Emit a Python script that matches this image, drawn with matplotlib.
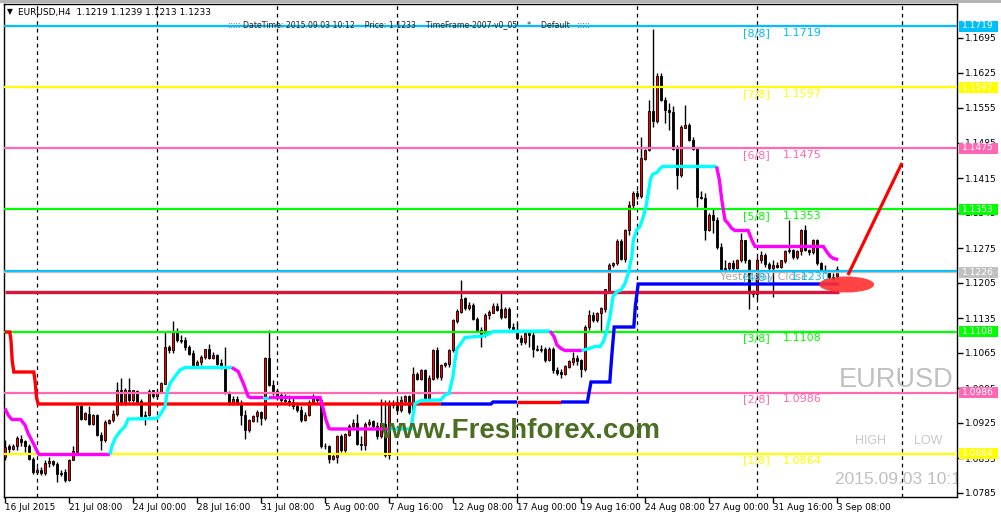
import matplotlib
matplotlib.use('Agg')
import matplotlib.pyplot as plt
from matplotlib.patches import Rectangle, Ellipse
from matplotlib.transforms import blended_transform_factory
import numpy as np

# ---------------- data ----------------
opens = [1.0858,1.0878,1.0874,1.0878,1.0894,1.0888,1.0878,1.0854,1.0828,1.0832,
1.0826,1.0846,1.0850,1.0843,1.0824,1.0826,1.0811,1.0852,1.0868,1.0959,
1.0934,1.0944,1.0924,1.0941,1.0901,1.0891,1.0926,1.0931,1.0943,1.0991,
1.0964,1.0991,1.0971,1.0990,1.0968,1.0938,1.0941,1.0990,1.0979,1.0986,
1.1004,1.1078,1.1071,1.1108,1.1091,1.1090,1.1078,1.1064,1.1041,1.1047,
1.1058,1.1072,1.1056,1.1060,1.1044,1.1038,1.0988,1.0964,1.0974,1.0966,
1.0941,1.0911,1.0930,1.0938,1.0946,1.0936,1.1054,1.1001,1.0990,1.0981,
1.0972,1.0970,1.0966,1.0958,1.0952,1.0931,1.0941,1.0968,1.0974,1.0971,
1.0879,1.0878,1.0854,1.0858,1.0898,1.0872,1.0902,1.0918,1.0924,1.0884,
1.0881,1.0924,1.0928,1.0919,1.0898,1.0924,1.0861,1.0961,1.0966,1.0951,
1.0970,1.0978,1.0948,1.1023,1.1014,1.1030,1.0974,1.1014,1.1071,1.1018,
1.1041,1.1044,1.1071,1.1130,1.1148,1.1174,1.1156,1.1161,1.1134,1.1111,
1.1101,1.1141,1.1146,1.1159,1.1152,1.1138,1.1152,1.1118,1.1111,1.1096,
1.1088,1.1104,1.1101,1.1074,1.1072,1.1074,1.1052,1.1074,1.1031,1.1026,
1.1022,1.1038,1.1048,1.1056,1.1050,1.1034,1.1118,1.1141,1.1131,1.1144,
1.1154,1.1192,1.1241,1.1244,1.1288,1.1254,1.1311,1.1361,1.1384,1.1379,
1.1454,1.1471,1.1548,1.1528,1.1619,1.1571,1.1550,1.1546,1.1474,1.1421,
1.1516,1.1521,1.1491,1.1474,1.1378,1.1375,1.1311,1.1341,1.1331,1.1278,
1.1234,1.1236,1.1244,1.1236,1.1251,1.1290,1.1251,1.1184,1.1183,1.1251,
1.1261,1.1243,1.1236,1.1241,1.1238,1.1250,1.1268,1.1271,1.1258,1.1268,
1.1311,1.1271,1.1266,1.1291,1.1244,1.1232,1.1228,1.1218,1.1219]
highs = [1.0891,1.0884,1.0884,1.0898,1.0901,1.0891,1.0884,1.0858,1.0838,1.0838,
1.0851,1.0858,1.0852,1.0848,1.0831,1.0834,1.0854,1.0878,1.0961,1.0961,
1.0948,1.0958,1.0944,1.0944,1.0908,1.0931,1.0934,1.0951,1.1008,1.1016,
1.0996,1.1016,1.0992,1.0992,1.0974,1.0950,1.0994,1.0992,1.0991,1.1008,
1.1108,1.1080,1.1130,1.1116,1.1101,1.1098,1.1081,1.1071,1.1051,1.1061,
1.1074,1.1083,1.1068,1.1064,1.1054,1.1078,1.0990,1.0978,1.0978,1.0971,
1.0951,1.0934,1.0941,1.0951,1.0950,1.1058,1.1112,1.1011,1.0994,1.0986,
1.0984,1.0981,1.0979,1.0968,1.0958,1.0948,1.0971,1.0984,1.0979,1.0974,
1.0886,1.0882,1.0866,1.0901,1.0904,1.0906,1.0924,1.0934,1.0944,1.0898,
1.0928,1.0934,1.0931,1.0928,1.0974,1.0971,1.0971,1.0972,1.0974,1.0978,
1.0981,1.0980,1.1038,1.1028,1.1034,1.1034,1.1020,1.1074,1.1078,1.1044,
1.1048,1.1074,1.1134,1.1154,1.1212,1.1178,1.1168,1.1164,1.1138,1.1118,
1.1144,1.1151,1.1164,1.1164,1.1184,1.1158,1.1158,1.1124,1.1124,1.1101,
1.1108,1.1108,1.1108,1.1081,1.1081,1.1078,1.1078,1.1078,1.1038,1.1034,
1.1041,1.1052,1.1068,1.1061,1.1054,1.1121,1.1151,1.1148,1.1148,1.1158,
1.1194,1.1244,1.1248,1.1294,1.1294,1.1314,1.1368,1.1388,1.1391,1.1498,
1.1474,1.1571,1.1712,1.1624,1.1624,1.1578,1.1564,1.1559,1.1481,1.1521,
1.1561,1.1524,1.1498,1.1478,1.1388,1.1384,1.1344,1.1354,1.1338,1.1284,
1.1251,1.1248,1.1251,1.1254,1.1304,1.1292,1.1254,1.1191,1.1258,1.1268,
1.1264,1.1248,1.1251,1.1248,1.1252,1.1271,1.1331,1.1274,1.1271,1.1314,
1.1321,1.1274,1.1294,1.1294,1.1246,1.1241,1.1232,1.1224,1.1239]
lows = [1.0852,1.0864,1.0871,1.0872,1.0878,1.0868,1.0851,1.0824,1.0824,1.0821,
1.0821,1.0838,1.0839,1.0808,1.0819,1.0808,1.0810,1.0851,1.0866,1.0931,
1.0932,1.0921,1.0922,1.0898,1.0871,1.0888,1.0923,1.0928,1.0939,1.0961,
1.0962,1.0968,1.0968,1.0964,1.0934,1.0921,1.0938,1.0975,1.0975,1.0985,
1.1003,1.1066,1.1066,1.1088,1.1086,1.1071,1.1061,1.1038,1.1040,1.1040,
1.1054,1.1054,1.1054,1.1041,1.1034,1.0984,1.0961,1.0962,1.0961,1.0921,
1.0894,1.0908,1.0928,1.0928,1.0921,1.0932,1.0998,1.0981,1.0971,1.0968,
1.0964,1.0959,1.0954,1.0948,1.0928,1.0930,1.0938,1.0963,1.0968,1.0876,
1.0874,1.0846,1.0851,1.0846,1.0868,1.0868,1.0898,1.0914,1.0881,1.0871,
1.0871,1.0918,1.0914,1.0894,1.0895,1.0858,1.0854,1.0956,1.0948,1.0948,
1.0961,1.0944,1.0944,1.1011,1.1012,1.0971,1.0970,1.1011,1.1014,1.1011,
1.1038,1.1038,1.1068,1.1124,1.1144,1.1152,1.1151,1.1131,1.1108,1.1078,
1.1098,1.1134,1.1144,1.1150,1.1134,1.1135,1.1114,1.1108,1.1094,1.1081,
1.1084,1.1078,1.1058,1.1070,1.1068,1.1048,1.1050,1.1026,1.1021,1.1016,
1.1020,1.1035,1.1041,1.1040,1.1018,1.1030,1.1111,1.1128,1.1128,1.1108,
1.1148,1.1188,1.1238,1.1240,1.1251,1.1248,1.1301,1.1354,1.1374,1.1375,
1.1451,1.1468,1.1518,1.1524,1.1568,1.1524,1.1511,1.1471,1.1394,1.1418,
1.1514,1.1488,1.1471,1.1358,1.1374,1.1291,1.1308,1.1304,1.1274,1.1231,
1.1228,1.1231,1.1232,1.1234,1.1248,1.1244,1.1154,1.1178,1.1174,1.1244,
1.1238,1.1232,1.1178,1.1236,1.1235,1.1245,1.1264,1.1254,1.1254,1.1261,
1.1268,1.1261,1.1262,1.1241,1.1228,1.1224,1.1214,1.1211,1.1213]
closes = [1.0878,1.0874,1.0878,1.0894,1.0888,1.0878,1.0854,1.0828,1.0832,1.0826,
1.0846,1.0850,1.0843,1.0824,1.0826,1.0811,1.0852,1.0868,1.0959,1.0934,
1.0944,1.0924,1.0941,1.0901,1.0891,1.0926,1.0931,1.0943,1.0991,1.0964,
1.0991,1.0971,1.0990,1.0968,1.0938,1.0941,1.0990,1.0979,1.0986,1.1004,
1.1078,1.1071,1.1108,1.1091,1.1090,1.1078,1.1064,1.1041,1.1047,1.1058,
1.1072,1.1056,1.1060,1.1044,1.1038,1.0988,1.0964,1.0974,1.0966,1.0941,
1.0911,1.0930,1.0938,1.0946,1.0936,1.1054,1.1001,1.0990,1.0981,1.0972,
1.0970,1.0966,1.0958,1.0952,1.0931,1.0941,1.0968,1.0974,1.0971,1.0879,
1.0878,1.0854,1.0858,1.0898,1.0872,1.0902,1.0918,1.0924,1.0884,1.0881,
1.0924,1.0928,1.0919,1.0898,1.0924,1.0861,1.0961,1.0966,1.0951,1.0970,
1.0978,1.0948,1.1023,1.1014,1.1030,1.0974,1.1014,1.1071,1.1018,1.1041,
1.1044,1.1071,1.1130,1.1148,1.1174,1.1156,1.1161,1.1134,1.1111,1.1101,
1.1141,1.1146,1.1159,1.1152,1.1138,1.1152,1.1118,1.1111,1.1096,1.1088,
1.1104,1.1101,1.1074,1.1072,1.1074,1.1052,1.1074,1.1031,1.1026,1.1022,
1.1038,1.1048,1.1056,1.1050,1.1034,1.1118,1.1141,1.1131,1.1144,1.1154,
1.1192,1.1241,1.1244,1.1288,1.1254,1.1311,1.1361,1.1384,1.1379,1.1454,
1.1471,1.1548,1.1528,1.1619,1.1571,1.1550,1.1546,1.1474,1.1421,1.1516,
1.1521,1.1491,1.1474,1.1378,1.1375,1.1311,1.1341,1.1331,1.1278,1.1234,
1.1236,1.1244,1.1236,1.1251,1.1290,1.1251,1.1184,1.1183,1.1251,1.1261,
1.1243,1.1236,1.1241,1.1238,1.1250,1.1268,1.1271,1.1258,1.1268,1.1311,
1.1271,1.1266,1.1291,1.1244,1.1232,1.1228,1.1218,1.1214,1.1233]

# Murrey math levels
mm_names  = ['[8/8]', '[7/8]', '[6/8]', '[5/8]', '[4/8]', '[3/8]', '[2/8]', '[1/8]']
mm_levels = [1.1719, 1.1597, 1.1475, 1.1353, 1.1230, 1.1108, 1.0986, 1.0864]
mm_colors = ['#00BFFF', '#FFFF00', '#FF69B4', '#00FF00', '#00BFFF', '#00FF00', '#FF69B4', '#FFFF00']

# boxed price labels on the right scale
box_prices = [1.1719, 1.1597, 1.1475, 1.1353, 1.1226, 1.1108, 1.0986, 1.0864]
box_colors = ['#00BFFF', '#FFFF00', '#FF69B4', '#00FF00', '#C0C0C0', '#00FF00', '#FF69B4', '#FFFF00']

yticks = [1.1695, 1.1625, 1.1555, 1.1485, 1.1415, 1.1345, 1.1275, 1.1205,
          1.1135, 1.1065, 1.0995, 1.0925, 1.0855, 1.0785]
xtick_bars = [0, 16, 32, 48, 64, 80, 96, 112, 128, 144, 160, 176, 192, 208]
xtick_labels = ['16 Jul 2015', '21 Jul 08:00', '24 Jul 00:00', '28 Jul 16:00', '31 Jul 08:00',
                '5 Aug 00:00', '7 Aug 16:00', '12 Aug 08:00', '17 Aug 00:00', '19 Aug 16:00',
                '24 Aug 08:00', '27 Aug 00:00', '31 Aug 16:00', '3 Sep 08:00']
separators = [8, 38, 68, 98, 128, 158, 188, 224.25]

yesterday_close = 1.1187
bid_line = 1.1226

# stepped trend line (red / blue)
trend_red1 = [(0,1.1107),(1.2,1.1107),(1.5,1.1090),(1.8,1.1050),(2.2,1.1027),(7.2,1.1027),
              (7.5,1.1010),(7.9,1.0975),(8.3,1.0963),(109,1.0963)]
trend_blue1 = [(109,1.0963),(121.5,1.0963),(122,1.0967),(128,1.0967)]
trend_red2 = [(128,1.0967),(139,1.0967)]
trend_blue2 = [(139,1.0967),(145.6,1.0967),(146,1.0985),(146.5,1.1007),(151.2,1.1007),
               (151.7,1.1060),(152.3,1.1117),(157.2,1.1117),(157.6,1.1160),(158.3,1.1203),(208.6,1.1203)]

# stepped channel line (magenta / cyan)
mc_mag1 = [(0,1.0954),(0.8,1.0941),(1.7,1.0932),(3.9,1.0932),(5,1.0921),(5.8,1.0904),(7.1,1.0884),
           (8.3,1.0864),(8.6,1.0862),(26.25,1.0862)]
mc_cyan1 = [(26.25,1.0862),(26.7,1.0878),(27.5,1.0894),(28.75,1.0908),(30,1.0918),(30.8,1.0933),
            (37.9,1.0934),(38.75,1.0941),(40,1.0958),(40.6,1.0988),(41.25,1.1004),(42.5,1.1018),
            (43.75,1.1031),(45,1.1036),(56.7,1.1036)]
mc_mag2 = [(56.7,1.1036),(58.3,1.1028),(59.6,1.1004),(60.8,1.0978),(61.3,1.0976),(64.6,1.0976)]
mc_cyan2 = [(64.6,1.0976),(66,1.0976)]
mc_mag3 = [(66,1.0976),(78.75,1.0976),(79.4,1.0958),(80.25,1.0931),(81,1.0914),(81.5,1.0913),(96,1.0913)]
mc_cyan3 = [(96,1.0913),(101.5,1.0913),(102,1.0940),(102.5,1.0964),(104,1.0970),(109,1.0971),
            (110,1.0981),(111,1.0984),(112,1.1018),(112.5,1.1051),(113,1.1074),(114,1.1084),
            (115,1.1096),(119.6,1.1099),(121.25,1.1104),(122,1.1108),(136.25,1.1109)]
mc_mag4 = [(136.25,1.1109),(137.25,1.1098),(138,1.1081),(139,1.1074),(140,1.1070),(144.2,1.1070)]
mc_cyan4 = [(144.2,1.1070),(146,1.1074),(147.5,1.1078),(148.8,1.1078),(149.6,1.1088),(150.4,1.1108),
            (151.25,1.1138),(152,1.1178),(153,1.1188),(154,1.1191),(155,1.1204),(155.8,1.1224),
            (156.7,1.1258),(157.1,1.1291),(157.9,1.1311),(158.75,1.1318),(159.6,1.1338),
            (160.25,1.1358),(160.8,1.1384),(161.4,1.1414),(162,1.1423),(163,1.1426),
            (163.75,1.1434),(164.4,1.1438),(177.9,1.1438)]
mc_mag5 = [(177.9,1.1438),(178.6,1.1411),(179.2,1.1371),(179.6,1.1351),(180,1.1331),(180.8,1.1324),
           (181.7,1.1314),(182.5,1.1310),(185.8,1.1310),(186.7,1.1291),(187.5,1.1278),
           (204.6,1.1278),(205.4,1.1268),(206.25,1.1259),(207.1,1.1254),(208.3,1.1252)]

# drawn objects
arrow_pts = [(210.75, 1.1221), (224.25, 1.1445)]
ellipse_center = (210.4, 1.1202)
ellipse_size = (13.75, 0.0032)

# ---------------- figure ----------------
W, H = 1001, 516
fig = plt.figure(figsize=(W / 100, H / 100), dpi=100)
fig.patch.set_facecolor('white')
L, R, T, B = 4, 957, 4, 497
ax = fig.add_axes([L / W, 1 - B / H, (R - L) / W, (B - T) / H])
ax.set_facecolor('white')
ax.set_xlim(-0.25, 238.0)
ax.set_ylim(1.0777, 1.1763)

# top gray strip
fig.add_artist(Rectangle((0, 1 - 3 / H), 1, 3 / H, transform=fig.transFigure,
                         facecolor='#B4B4B4', edgecolor='none', zorder=0))

for s in ax.spines.values():
    s.set_color('black')
    s.set_linewidth(1.0)

# separators
for sx in separators:
    ax.axvline(sx, color='black', lw=0.9, ls=(0, (3, 3)), zorder=1)

# candles
idx = np.arange(len(opens))
o = np.array(opens); h = np.array(highs); l = np.array(lows); c = np.array(closes)
ax.vlines(idx, l, h, color='black', lw=1.0, zorder=3)
bot = np.minimum(o, c)
hei = np.maximum(np.abs(c - o), 0.00004)
cols = np.where(c > o, '#FF0000', '#000000')
ax.bar(idx, hei, bottom=bot, width=0.72, color=cols, edgecolor='black', linewidth=0.6, zorder=4)

# horizontal lines
for lev, col in zip(mm_levels, mm_colors):
    ax.axhline(lev, color=col, lw=1.6, zorder=5)
ax.axhline(bid_line, color='#C0C0C0', lw=1.0, zorder=5)
ax.plot([0, 208.6], [yesterday_close, yesterday_close], color='#DC143C', lw=2.4, zorder=6,
        solid_capstyle='butt')

def draw_piece(pts, col):
    xs = [p[0] for p in pts]; ys = [p[1] for p in pts]
    ax.plot(xs, ys, color=col, lw=2.4, zorder=6, solid_capstyle='butt', solid_joinstyle='miter')

for pts, col in [(trend_red1, '#FF0000'), (trend_blue1, '#0000FF'), (trend_red2, '#FF0000'),
                 (trend_blue2, '#0000FF')]:
    draw_piece(pts, col)
for pts, col in [(mc_mag1, '#FF00FF'), (mc_cyan1, '#00FFFF'), (mc_mag2, '#FF00FF'),
                 (mc_cyan2, '#00FFFF'), (mc_mag3, '#FF00FF'), (mc_cyan3, '#00FFFF'),
                 (mc_mag4, '#FF00FF'), (mc_cyan4, '#00FFFF'), (mc_mag5, '#FF00FF')]:
    draw_piece(pts, col)

# level labels inside chart
px = 0.0002  # one pixel in price units
for name, lev, col in zip(mm_names, mm_levels, mm_colors):
    ax.text(184.5, lev - 2 * px, name, color=col, fontsize=8, va='top', ha='left', zorder=8,
            family='DejaVu Sans')
    xnum = 196.5 if name == '[4/8]' else 194.5
    ax.text(xnum, lev - 2 * px, f'{lev:.4f}', color=col, fontsize=8, va='top', ha='left', zorder=8,
            family='DejaVu Sans')
ax.text(178.75, 1.1217, 'Yesterday Close', color='#A8A8A8', fontsize=8, va='center', ha='left',
        zorder=7)

# arrow and ellipse
ax.add_patch(Ellipse(ellipse_center, ellipse_size[0], ellipse_size[1], facecolor='#FF3030',
                     edgecolor='none', alpha=0.9, zorder=9, clip_on=False))
ax.plot([arrow_pts[0][0], arrow_pts[1][0]], [arrow_pts[0][1], arrow_pts[1][1]], color='#FF0000',
        lw=2.3, zorder=9, solid_capstyle='butt')

# axes ticks
ax.yaxis.tick_right()
ax.set_yticks(yticks)
ax.set_yticklabels([f'{v:.4f}' for v in yticks])
ax.tick_params(axis='y', direction='out', length=4, width=1, labelsize=6.6, pad=1.5, colors='black')
ax.set_xticks(xtick_bars)
ax.set_xticklabels(xtick_labels, ha='left')
ax.tick_params(axis='x', direction='out', length=4, width=1, labelsize=6.4, pad=0.5, colors='black')

# boxed labels on price scale
tr = blended_transform_factory(fig.transFigure, ax.transData)
for p, col in zip(box_prices, box_colors):
    fig.add_artist(Rectangle((959 / W, p - 0.0011), 39 / W, 0.0022, transform=tr,
                             facecolor=col, edgecolor='none', zorder=10))
    fig.text(962 / W, p, f'{p:.4f}', transform=tr, color='white', fontsize=6.6, va='center',
             ha='left', zorder=11)

# header texts
def ftext(x, y, s, **kw):
    return fig.text(x / W, 1 - y / H, s, **kw)

ftext(7, 12, '\u25BC', fontsize=5.5, va='center', ha='left', color='black')
ftext(18, 12, 'EURUSD,H4  1.1219 1.1239 1.1213 1.1233', fontsize=6.5, va='center', ha='left',
      color='black')
ftext(228, 25, '::::: DateTime: 2015.09.03 10:12    Price: 1.1233    TimeFrame-2007-v0_05    *    Default   :::::',
      fontsize=5.6, va='center', ha='left', color='#202020')

# watermarks
ftext(520, 438, 'www.Freshforex.com', fontsize=20, fontweight='bold', family='Liberation Sans',
      color='#4A6E22', ha='center', va='baseline', zorder=12)
ax.text(896 / W, 1 - 380 / H, 'EURUSD', transform=fig.transFigure, fontsize=19.5,
        family='Liberation Sans', color='#C0C0C0', ha='center', va='center', zorder=2)
ax.text(870 / W, 1 - 441 / H, 'HIGH', transform=fig.transFigure, fontsize=9,
        family='Liberation Sans', color='#C8C8C8', ha='center', va='center', zorder=2)
ax.text(928 / W, 1 - 441 / H, 'LOW', transform=fig.transFigure, fontsize=9,
        family='Liberation Sans', color='#C8C8C8', ha='center', va='center', zorder=2)
ax.text(835 / W, 1 - 479 / H, '2015.09.03 10:12', transform=fig.transFigure, fontsize=12.5,
        family='Liberation Sans', color='#C0C0C0', ha='left', va='center', zorder=2, clip_on=True)

fig.savefig('out.png', dpi=100, facecolor=fig.get_facecolor())
